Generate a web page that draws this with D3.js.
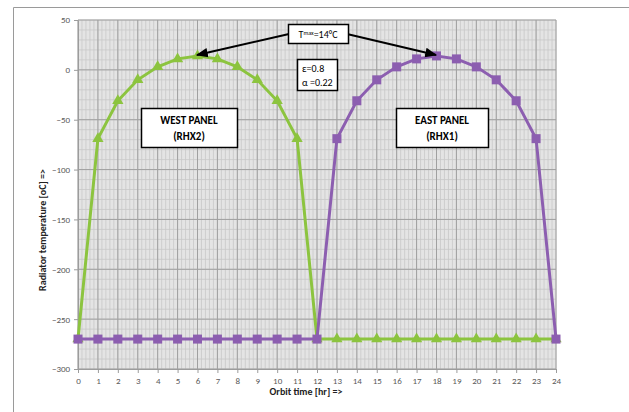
<!DOCTYPE html>
<html>
<head>
<meta charset="utf-8">
<script src="https://cdn.jsdelivr.net/npm/d3@7"></script>
<style>
  body { margin: 0; background: #fff; }
  svg { display: block; font-family: Calibri, Carlito, "Open Sans", sans-serif; }
</style>
</head>
<body>
<div id="chart"></div>
<script>
// orbit time [hr]
const hours = d3.range(0, 25);
// west panel (RHX2), green triangles
const westTemps = [-270, -69, -31, -10, 3, 11, 14, 11, 3, -10, -31, -69, -270,
    -270, -270, -270, -270, -270, -270, -270, -270, -270, -270, -270, -270];
// east panel (RHX1), purple squares
const eastTemps = [-270, -270, -270, -270, -270, -270, -270, -270, -270, -270, -270, -270, -270,
    -69, -31, -10, 3, 11, 14, 11, 3, -10, -31, -69, -270];
const yTicks = [50, 0, -50, -100, -150, -200, -250, -300];

const W = 629, H = 412;
const margin = { top: 20, right: 73, bottom: 43, left: 78 };
const width = W - margin.left - margin.right;
const height = H - margin.top - margin.bottom;

const svg = d3.select("#chart").append("svg")
    .attr("width", W)
    .attr("height", H);

// outer frame
svg.append("path")
    .attr("d", `M13.5,${H} V7.5 H${W}`)
    .attr("fill", "none")
    .attr("stroke", "#9a9a9a")
    .attr("stroke-width", 1);

const g = svg.append("g").attr("transform", `translate(${margin.left},${margin.top})`);

const x = d3.scaleLinear().domain([0, 24]).range([0, width]);
const y = d3.scaleLinear().domain([-300, 50]).range([height, 0]);

g.append("rect")
    .attr("width", width)
    .attr("height", height)
    .attr("fill", "#e4e4e4");

// minor grid
g.append("g").selectAll("line")
    .data(d3.range(0, 24.001, 0.2))
    .join("line")
    .attr("x1", d => x(d)).attr("x2", d => x(d))
    .attr("y1", 0).attr("y2", height)
    .attr("stroke", "#c8c8c8").attr("stroke-width", 0.8);
g.append("g").selectAll("line")
    .data(d3.range(-300, 50.001, 10))
    .join("line")
    .attr("y1", d => y(d)).attr("y2", d => y(d))
    .attr("x1", 0).attr("x2", width)
    .attr("stroke", "#c8c8c8").attr("stroke-width", 0.8);

// major grid
g.append("g").selectAll("line")
    .data(hours)
    .join("line")
    .attr("x1", d => x(d)).attr("x2", d => x(d))
    .attr("y1", 0).attr("y2", height)
    .attr("stroke", "#a0a0a0").attr("stroke-width", 1);
g.append("g").selectAll("line")
    .data(yTicks)
    .join("line")
    .attr("y1", d => y(d)).attr("y2", d => y(d))
    .attr("x1", 0).attr("x2", width)
    .attr("stroke", "#a0a0a0").attr("stroke-width", 1);

// axes
const xAxis = g.append("g")
    .attr("transform", `translate(0,${height})`)
    .call(d3.axisBottom(x).tickValues(hours).tickFormat(d3.format("d")).tickSize(4).tickSizeOuter(0));
const yAxis = g.append("g")
    .call(d3.axisLeft(y).tickValues(yTicks).tickSize(4).tickSizeOuter(0));
[xAxis, yAxis].forEach(a => {
    a.select(".domain").attr("stroke", "#9c9c9c");
    a.selectAll(".tick line").attr("stroke", "#9c9c9c");
    a.selectAll(".tick text")
        .attr("fill", "#595959")
        .attr("font-size", 9)
        .attr("font-family", "Calibri, Carlito, 'Open Sans', sans-serif");
});
xAxis.selectAll(".tick text").attr("dy", "0.9em");
yAxis.selectAll(".tick text").attr("dx", "-0.1em");

// axis titles
svg.append("text")
    .attr("x", 306).attr("y", 395)
    .attr("text-anchor", "middle")
    .attr("font-size", 10).attr("font-weight", "bold")
    .attr("fill", "#222")
    .text("Orbit time [hr] =>");
svg.append("text")
    .attr("transform", "translate(46,230) rotate(-90)")
    .attr("text-anchor", "middle")
    .attr("font-size", 10).attr("font-weight", "bold")
    .attr("fill", "#222")
    .text("Radiator temperature [oC] =>");

const line = d3.line().x((d, i) => x(hours[i])).y(d => y(d));

const green = "#8cc43f", purple = "#8c5eb0";

// west series
g.append("path").datum(westTemps)
    .attr("d", line)
    .attr("fill", "none").attr("stroke", green).attr("stroke-width", 3);
g.append("g").selectAll("path")
    .data(westTemps)
    .join("path")
    .attr("d", d3.symbol(d3.symbolTriangle).size(55))
    .attr("transform", (d, i) => `translate(${x(hours[i])},${y(d)})`)
    .attr("fill", green);

// east series
g.append("path").datum(eastTemps)
    .attr("d", line)
    .attr("fill", "none").attr("stroke", purple).attr("stroke-width", 3);
g.append("g").selectAll("rect")
    .data(eastTemps)
    .join("rect")
    .attr("x", (d, i) => x(hours[i]) - 4.5)
    .attr("y", d => y(d) - 4.5)
    .attr("width", 9).attr("height", 9)
    .attr("fill", purple);

// annotations
const defs = svg.append("defs");
defs.append("marker")
    .attr("id", "arrow")
    .attr("viewBox", "0 0 10 10")
    .attr("refX", 9).attr("refY", 5)
    .attr("markerWidth", 6).attr("markerHeight", 6)
    .attr("orient", "auto")
    .append("path")
    .attr("d", "M0,1 L10,5 L0,9 Z")
    .attr("fill", "#000");

svg.append("line")
    .attr("x1", 289).attr("y1", 34)
    .attr("x2", 197).attr("y2", 55)
    .attr("stroke", "#000").attr("stroke-width", 2)
    .attr("marker-end", "url(#arrow)");
svg.append("line")
    .attr("x1", 347).attr("y1", 34)
    .attr("x2", 436).attr("y2", 55)
    .attr("stroke", "#000").attr("stroke-width", 2)
    .attr("marker-end", "url(#arrow)");

function box(x0, y0, w, h) {
    svg.append("rect")
        .attr("x", x0 + 0.5).attr("y", y0 + 0.5)
        .attr("width", w).attr("height", h)
        .attr("fill", "#fff").attr("stroke", "#000").attr("stroke-width", 1.5);
}

box(288, 24, 60, 19);
const tmax = svg.append("text")
    .attr("x", 318).attr("y", 37.5)
    .attr("text-anchor", "middle")
    .attr("font-size", 10).attr("fill", "#000");
tmax.append("tspan").text("T");
tmax.append("tspan").attr("font-size", 6).attr("dy", -3).text("max");
tmax.append("tspan").attr("dy", 3).text("=14°C");

box(297, 59, 40, 31);
svg.append("text").attr("x", 302).attr("y", 72)
    .attr("font-size", 10).text("ε=0.8");
svg.append("text").attr("x", 302).attr("y", 86)
    .attr("font-size", 10).text("α =0.22");

box(141, 108, 96, 39);
svg.append("text").attr("x", 189).attr("y", 124)
    .attr("text-anchor", "middle").attr("font-size", 11).attr("font-weight", "bold")
    .text("WEST PANEL");
svg.append("text").attr("x", 189).attr("y", 140)
    .attr("text-anchor", "middle").attr("font-size", 11).attr("font-weight", "bold")
    .text("(RHX2)");

box(396, 108, 92, 39);
svg.append("text").attr("x", 442).attr("y", 124)
    .attr("text-anchor", "middle").attr("font-size", 11).attr("font-weight", "bold")
    .text("EAST PANEL");
svg.append("text").attr("x", 442).attr("y", 140)
    .attr("text-anchor", "middle").attr("font-size", 11).attr("font-weight", "bold")
    .text("(RHX1)");
</script>
</body>
</html>
